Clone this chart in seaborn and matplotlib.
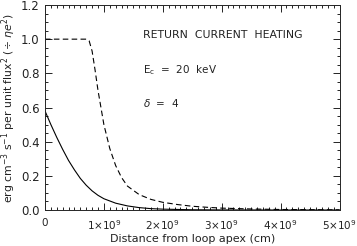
import numpy as np
import pandas as pd
import matplotlib
matplotlib.use("Agg")
import matplotlib.pyplot as plt
import seaborn as sns
from matplotlib.ticker import MultipleLocator

# distance from loop apex in units of 1e9 cm
solid_x = [0.0, 0.1, 0.2, 0.3, 0.4, 0.5, 0.6, 0.7, 0.8, 0.9, 1.0, 1.2, 1.4,
           1.6, 1.8, 2.0, 2.5, 3.0, 4.0, 5.0]
solid_y = [0.58, 0.50, 0.425, 0.355, 0.29, 0.235, 0.185, 0.145, 0.112, 0.086,
           0.066, 0.040, 0.024, 0.014, 0.008, 0.005, 0.0015, 0.0005, 0.0, 0.0]

dashed_x = [0.0, 0.7, 0.75, 0.8, 0.85, 0.9, 1.0, 1.1, 1.2, 1.3, 1.4, 1.6, 1.8,
            2.0, 2.25, 2.5, 2.75, 3.0, 3.5, 4.0, 4.5, 5.0]
dashed_y = [1.0, 1.0, 0.99, 0.93, 0.82, 0.70, 0.50, 0.36, 0.26, 0.19, 0.14,
            0.09, 0.062, 0.045, 0.032, 0.022, 0.016, 0.011, 0.006, 0.003,
            0.002, 0.001]

xtick_vals = [0, 1, 2, 3, 4, 5]
xtick_labels = ["0", r"1$\times$10$^9$", r"2$\times$10$^9$", r"3$\times$10$^9$",
                r"4$\times$10$^9$", r"5$\times$10$^9$"]
ytick_vals = [0, 0.2, 0.4, 0.6, 0.8, 1.0, 1.2]
ytick_labels = ["0.0", "0.2", "0.4", "0.6", "0.8", "1.0", "1.2"]

sns.set_style("ticks")
plt.rcParams["font.family"] = ["DejaVu Sans"]
plt.rcParams["mathtext.fontset"] = "dejavusans"

fig = plt.figure(figsize=(3.57, 2.46), dpi=100)
ax = fig.add_axes([0.126, 0.1463, 0.825, 0.8334])

solid = pd.DataFrame({"x": solid_x, "y": solid_y})
dashed = pd.DataFrame({"x": dashed_x, "y": dashed_y})
sns.lineplot(data=solid, x="x", y="y", ax=ax, color="black", lw=0.8)
sns.lineplot(data=dashed, x="x", y="y", ax=ax, color="black", lw=0.8,
             linestyle=(0, (5, 3)))

ax.set_xlim(0, 5)
ax.set_ylim(0, 1.2)
ax.set_xticks(xtick_vals)
ax.set_xticklabels(xtick_labels)
ax.xaxis.set_minor_locator(MultipleLocator(0.1))
ax.set_yticks(ytick_vals)
ax.set_yticklabels(ytick_labels)
ax.yaxis.set_minor_locator(MultipleLocator(0.05))
ax.tick_params(which="both", direction="in", top=True, right=True,
               width=0.6, colors="black", labelcolor="#222222")
ax.tick_params(axis="x", labelsize=7.5, pad=6)
ax.tick_params(axis="y", labelsize=8.5, pad=4)
ax.tick_params(which="major", length=5)
ax.tick_params(which="minor", length=2.5)
for s in ax.spines.values():
    s.set_linewidth(0.7)

ax.set_xlabel("Distance from loop apex (cm)", fontsize=8, labelpad=1,
              color="#222222")
ax.set_ylabel(r"erg cm$^{-3}$ s$^{-1}$ per unit flux$^2$ ($\div$ $\eta e^2$)",
              fontsize=7.8, labelpad=2, color="#222222")

ax.text(1.66, 1.023, "RETURN  CURRENT  HEATING", fontsize=7.8, va="center",
        color="#222222")
ax.text(1.66, 0.82, r"E$_\mathregular{c}$  =  20  keV", fontsize=7.5,
        va="center", color="#222222")
ax.text(1.66, 0.625, r"$\delta$  =  4", fontsize=7.5, va="center",
        color="#222222")

fig.savefig("out.png", dpi=100)
